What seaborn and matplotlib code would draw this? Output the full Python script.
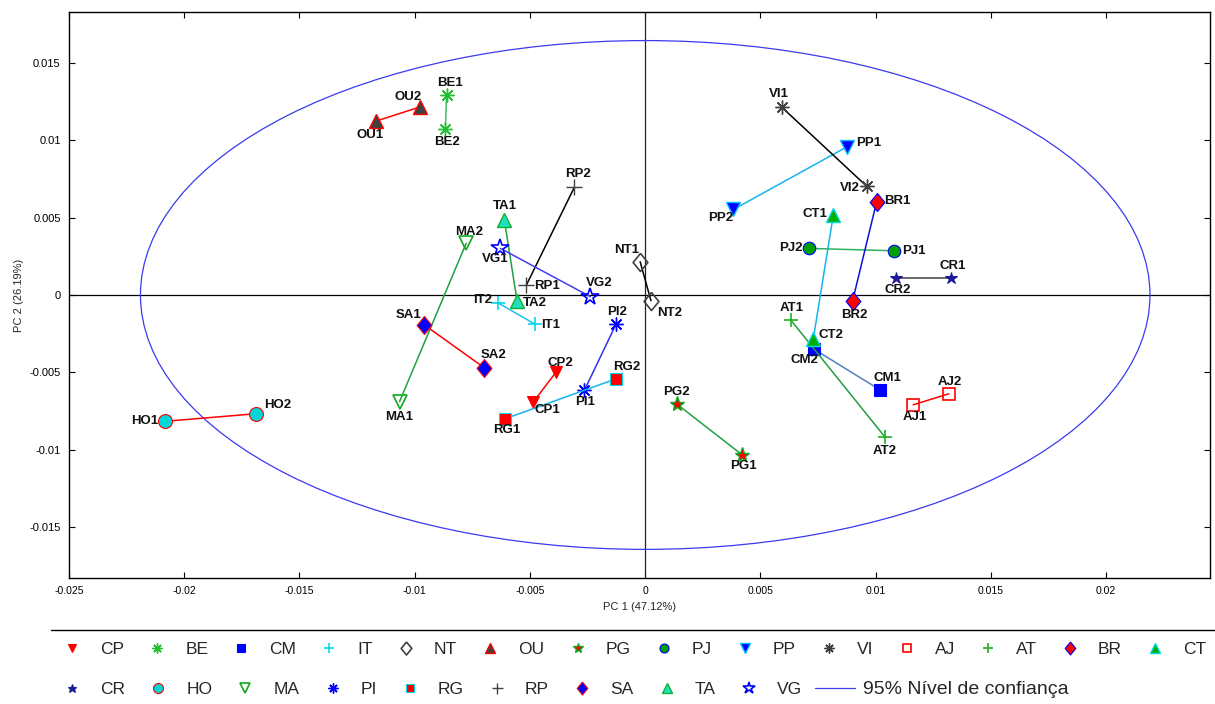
import warnings
import matplotlib
matplotlib.use("Agg")
import matplotlib.pyplot as plt
from matplotlib.lines import Line2D
from matplotlib.patches import Ellipse
import seaborn as sns
import pandas as pd

warnings.filterwarnings("ignore")

# Sample codes, replicate 1 and replicate 2 scores on PC1 / PC2
codes = ["CP", "BE", "CM", "IT", "NT", "OU", "PG", "PJ", "PP", "VI", "AJ", "AT",
         "BR", "CT", "CR", "HO", "MA", "PI", "RG", "RP", "SA", "TA", "VG"]
pc1_rep1 = [-0.00487, -0.00862, 0.01018, -0.00480, -0.00022, -0.01166, 0.00419,
            0.01079, 0.00874, 0.00592, 0.01163, 0.00631, 0.01004, 0.00816,
            0.01326, -0.02084, -0.01066, -0.00264, -0.00607, -0.00516, -0.00958,
            -0.00611, -0.00628]
pc2_rep1 = [-0.00695, 0.01290, -0.00613, -0.00187, 0.00215, 0.01125, -0.01032,
            0.00286, 0.00957, 0.01215, -0.00710, -0.00161, 0.00602, 0.00516,
            0.00112, -0.00817, -0.00690, -0.00617, -0.00800, 0.00063, -0.00194,
            0.00484, 0.00301]
pc1_rep2 = [-0.00387, -0.00867, 0.00732, -0.00640, 0.00025, -0.00979, 0.00137,
            0.00712, 0.00383, 0.00961, 0.01317, 0.01040, 0.00900, 0.00729,
            0.01088, -0.01690, -0.00777, -0.00126, -0.00126, -0.00308, -0.00698,
            -0.00556, -0.00238]
pc2_rep2 = [-0.00499, 0.01076, -0.00350, -0.00050, -0.00037, 0.01215, -0.00705,
            0.00301, 0.00553, 0.00703, -0.00639, -0.00918, -0.00037, -0.00286,
            0.00112, -0.00768, 0.00334, -0.00187, -0.00542, 0.00695, -0.00471,
            -0.00039, -0.00011]

x_ticks = [-0.025, -0.02, -0.015, -0.01, -0.005, 0, 0.005, 0.01, 0.015, 0.02]
x_tick_labels = ["-0.025", "-0.02", "-0.015", "-0.01", "-0.005", "0", "0.005",
                 "0.01", "0.015", "0.02"]
y_ticks = [-0.015, -0.01, -0.005, 0, 0.005, 0.01, 0.015]
y_tick_labels = ["-0.015", "-0.01", "-0.005", "0", "0.005", "0.01", "0.015"]

x_label = "PC 1 (47.12%)"
y_label = "PC 2 (26.19%)"
ellipse_label = "95% Nível de confiança"
ellipse_semi_axes = (0.0219, 0.01645)

# Slightly narrow diamond glyph
DIAMOND = [(0, 1), (0.82, 0), (0, -1), (-0.82, 0), (0, 1)]

# Marker styling per sample: marker, size, face, edge, edge width, line colour
RED, BLUE, GRAY = "#FF0000", "#0000FF", "#404040"
GREEN, CYAN, SKY = "#10A820", "#00D8E8", "#14B4F0"
styles = {
    "CP": ("v", 8.5, RED, RED, 0.8, RED),
    "BE": ((8, 2, 0), 10, GREEN, "#22C030", 1.0, "#40C060"),
    "CM": ("s", 8, BLUE, BLUE, 0.8, "#4F81BD"),
    "IT": ("+", 10, CYAN, CYAN, 1.2, "#1EC0F0"),
    "NT": (DIAMOND, 13, "none", GRAY, 1.2, "#000000"),
    "OU": ("^", 9.5, GRAY, RED, 1.0, RED),
    "PG": ("*", 11, RED, GREEN, 1.0, "#20A040"),
    "PJ": ("o", 9, "#00A000", BLUE, 0.8, "#30B060"),
    "PP": ("v", 9.5, BLUE, "#00BFFF", 1.0, SKY),
    "VI": ((8, 2, 0), 10, GRAY, GRAY, 1.0, "#000000"),
    "AJ": ("s", 8.5, "none", RED, 1.2, RED),
    "AT": ("+", 10, "#20B020", "#20B020", 1.2, "#20A040"),
    "BR": (DIAMOND, 13, RED, BLUE, 0.8, "#1010DD"),
    "CT": ("^", 9.5, "#00B000", CYAN, 1.0, SKY),
    "CR": ("*", 9, "#1A1A9A", "#1A1A9A", 0.8, GRAY),
    "HO": ("o", 10, "#00D8D8", RED, 0.8, RED),
    "MA": ("v", 10, "none", "#10A820", 1.2, "#20A040"),
    "PI": ((8, 2, 0), 10, BLUE, BLUE, 1.0, "#3030F0"),
    "RG": ("s", 8.5, RED, CYAN, 0.8, SKY),
    "RP": ("+", 11, GRAY, GRAY, 1.0, "#000000"),
    "SA": (DIAMOND, 13, BLUE, RED, 0.8, RED),
    "TA": ("^", 10, "#20E0C0", "#10B030", 1.0, "#20A040"),
    "VG": ("*", 13, "none", BLUE, 1.2, "#4040F0"),
}

# Label offsets (pixels: right, up) for replicate 1 and replicate 2
label_offsets = {
    "CP": ((14, -8), (4, 9)), "BE": ((3, 12), (2, -13)),
    "CM": ((8, 12), (-9, -11)), "IT": ((16, -1), (-15, 3)),
    "NT": ((-14, 12), (19, -12)), "OU": ((-6, -14), (-12, 10)),
    "PG": ((2, -11), (0, 12)), "PJ": ((20, 0), (-18, 0)),
    "PP": ((22, 4), (-13, -9)), "VI": ((-3, 13), (-17, -2)),
    "AJ": ((2, -12), (1, 12)), "AT": ((1, 12), (0, -14)),
    "BR": ((21, 1), (2, -14)), "CT": ((-18, 1), (18, 4)),
    "CR": ((2, 12), (2, -12)), "HO": ((-20, 0), (22, 9)),
    "MA": ((0, -15), (3, 11)), "PI": ((1, -12), (1, 12)),
    "RG": ((1, -11), (11, 12)), "RP": ((21, -1), (4, 13)),
    "SA": ((-16, 10), (9, 13)), "TA": ((0, 14), (18, -2)),
    "VG": ((-5, -11), (9, 14)),
}

sns.set_theme(style="white")
plt.rcParams["font.family"] = ["Liberation Sans", "DejaVu Sans"]

fig = plt.figure(figsize=(12.15, 7.04), dpi=100)
ax = fig.add_axes([0.0568, 0.179, 0.939, 0.804])

# Reference axes through the origin and confidence ellipse
ax.axhline(0, color="#000000", lw=0.9, zorder=1)
ax.axvline(0, color="#222222", lw=0.9, zorder=1)
ax.add_patch(Ellipse((0, 0), 2 * ellipse_semi_axes[0], 2 * ellipse_semi_axes[1],
                     fill=False, edgecolor="#3A3AF0", lw=0.9, zorder=1))

df = pd.DataFrame({"code": codes, "x1": pc1_rep1, "y1": pc2_rep1,
                   "x2": pc1_rep2, "y2": pc2_rep2})

px_to_pt = 0.72
for _, row in df.iterrows():
    code = row["code"]
    mk, ms, fc, ec, mew, lc = styles[code]
    pair = pd.DataFrame({"x": [row["x1"], row["x2"]], "y": [row["y1"], row["y2"]]})
    sns.lineplot(data=pair, x="x", y="y", ax=ax, sort=False, estimator=None,
                 color=lc, lw=1.1, marker=mk, markersize=ms,
                 markerfacecolor=fc, markeredgecolor=ec, markeredgewidth=mew,
                 zorder=3)
    for rep, (xx, yy) in enumerate([(row["x1"], row["y1"]), (row["x2"], row["y2"])]):
        dx, dy = label_offsets[code][rep]
        ax.annotate(f"{code}{rep + 1}", (xx, yy),
                    xytext=(dx * px_to_pt, dy * px_to_pt), textcoords="offset points",
                    ha="center", va="center", fontsize=9.5, fontweight="bold",
                    color="#111111", zorder=4)

ax.set_xlim(-0.025, 0.0245)
ax.set_ylim(-0.0183, 0.0183)
ax.set_xticks(x_ticks)
ax.set_xticklabels(x_tick_labels, fontsize=7.5)
ax.set_yticks(y_ticks)
ax.set_yticklabels(y_tick_labels, fontsize=8)
ax.tick_params(direction="in", length=4, width=0.8, top=True, right=True,
               bottom=True, left=True, pad=6, colors="#000000")
ax.set_xlabel(x_label, fontsize=8, labelpad=4)
ax.set_ylabel(y_label, fontsize=8, labelpad=4)
for sp in ax.spines.values():
    sp.set_edgecolor("#000000")
    sp.set_linewidth(1.0)
ax.grid(False)

# Legend: two rows of sample markers plus the ellipse entry
def handle(code):
    mk, ms, fc, ec, mew, lc = styles[code]
    return Line2D([], [], linestyle="none", marker=mk, markersize=ms * 0.72,
                  markerfacecolor=fc, markeredgecolor=ec, markeredgewidth=mew)

row1 = codes[:14]
row2 = codes[14:]
leg_kw = dict(frameon=False, fontsize=12.5, handlelength=2.3, handletextpad=0.46,
              columnspacing=0.76, borderpad=0, borderaxespad=0, loc="center left")
leg1 = fig.legend([handle(c) for c in row1], row1, ncol=len(row1),
                  bbox_to_anchor=(0.043, 0.078), **leg_kw)
h2 = [handle(c) for c in row2] + [Line2D([], [], color="#3A3AF0", lw=0.9)]
leg2 = fig.legend(h2, row2 + [ellipse_label], ncol=len(h2),
                  bbox_to_anchor=(0.043, 0.020), **leg_kw)
leg2.get_texts()[-1].set_fontsize(14)
fig.add_artist(Line2D([0.042, 1.0], [0.105, 0.105], color="#000000", lw=1.0,
                      transform=fig.transFigure))

fig.savefig("out.png", dpi=100)
